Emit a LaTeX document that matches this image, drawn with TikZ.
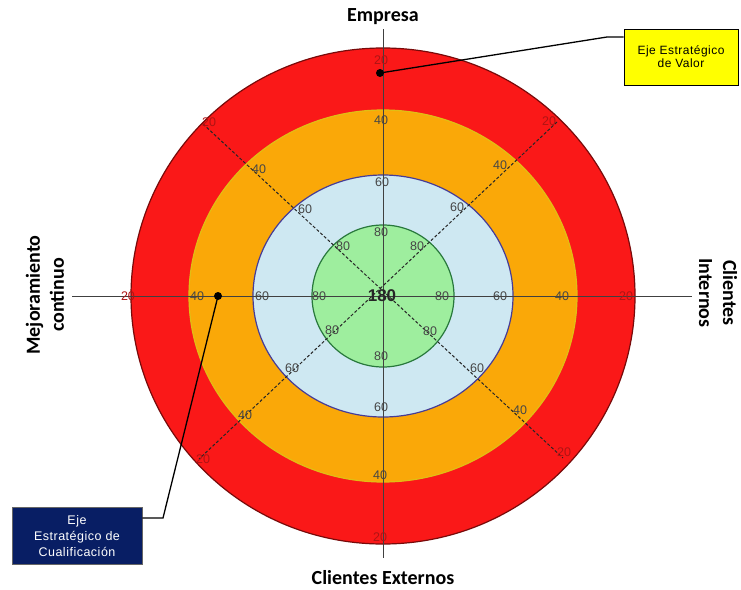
\documentclass[tikz,border=0pt]{standalone}
\usepackage{fontspec}
\setmainfont{Liberation Sans}
\newfontfamily\calib{Carlito}
\usetikzlibrary{shapes.geometric}
\definecolor{ringred}{RGB}{250,24,24}
\definecolor{ringredline}{RGB}{120,10,10}
\definecolor{ringorange}{RGB}{250,168,8}
\definecolor{ringorangeline}{RGB}{225,190,20}
\definecolor{ringblue}{RGB}{206,232,242}
\definecolor{ringblueline}{RGB}{70,60,150}
\definecolor{ringgreen}{RGB}{158,238,158}
\definecolor{ringgreenline}{RGB}{40,120,60}
\definecolor{numgray}{RGB}{70,70,70}
\definecolor{faintred}{RGB}{175,20,20}
\definecolor{boxyellow}{RGB}{255,255,0}
\definecolor{boxnavy}{RGB}{8,30,100}
\begin{document}
\begin{tikzpicture}[x=1pt,y=-1pt,
  axisline/.style={draw=black!75, line width=0.9pt},
  diagline/.style={draw=black!85, line width=1pt, dash pattern=on 3pt off 2pt},
  num/.style={font=\fontsize{12.5}{12.5}\selectfont, text=numgray, inner sep=0pt},
  faintnum/.style={font=\fontsize{12.5}{12.5}\selectfont, text=faintred, inner sep=0pt},
  axislabel/.style={font=\calib\bfseries\fontsize{20}{24}\selectfont, align=center, inner sep=0pt},
  dotmark/.style={circle, fill=black, minimum size=8pt, inner sep=0pt},
  callout/.style={draw=black, line width=1.3pt},
  yellowbox/.style={draw=black, line width=0.9pt, fill=boxyellow, minimum width=114pt, minimum height=56pt, align=center, font=\fontsize{12}{13}\selectfont\addfontfeature{LetterSpace=4}},
  navybox/.style={draw=black!60, line width=0.8pt, fill=boxnavy, text=white, minimum width=130pt, minimum height=57pt, align=center, font=\fontsize{12.5}{16}\selectfont\addfontfeature{LetterSpace=4}}
]
\useasboundingbox[fill=white] (0,0) rectangle (741,589);
\coordinate (c) at (383,296);

% rings
\filldraw[fill=ringred, draw=ringredline, line width=1.2pt] (c) ellipse [x radius=252pt, y radius=248pt];
\filldraw[fill=ringorange, draw=ringorangeline, line width=1.2pt] (c) ellipse [x radius=194pt, y radius=186pt];
\filldraw[fill=ringblue, draw=ringblueline, line width=1.2pt] (c) ellipse [x radius=130pt, y radius=121pt];
\filldraw[fill=ringgreen, draw=ringgreenline, line width=1.2pt] (c) circle [radius=71pt];

% axis labels
\node[axislabel] (emp) at (383,17) {Empresa};
\node[axislabel] (cext) at (383,578) {Clientes Externos};
\node[axislabel, rotate=90] (mej) at (45,295) {Mejoramiento\\continuo};
\node[axislabel, rotate=-90] (cint) at (718,293) {Clientes\\Internos};

% axes
\coordinate (atop) at (383,29);
\coordinate (abot) at (383,558);
\coordinate (aleft) at (72,296);
\coordinate (aright) at (692,296);
\draw[axisline] (atop) -- (abot);
\draw[axisline] (aleft) -- (aright);

% diagonals
\coordinate (dul) at (203,124);
\coordinate (dlr) at (563,458);
\coordinate (dur) at (557,122);
\coordinate (dll) at (199,459);
\draw[diagline] (dul) -- (dlr);
\draw[diagline] (dur) -- (dll);

% numbers vertical
\node[faintnum] (v20a) at (381,60) {20};
\node[num] (v40a) at (381,120) {40};
\node[num] (v60a) at (382,182) {60};
\node[num] (v80a) at (381,232) {80};
\node[num] (v80b) at (381,356) {80};
\node[num] (v60b) at (381,407) {60};
\node[num] (v40b) at (380,475) {40};
\node[faintnum] (v20b) at (380,537) {20};
% numbers horizontal
\node[faintnum] (h20a) at (128,296) {20};
\node[num] (h40a) at (197,296) {40};
\node[num] (h60a) at (262,296) {60};
\node[num] (h80a) at (319,296) {80};
\node[num] (h80b) at (442,296) {80};
\node[num] (h60b) at (500,296) {60};
\node[num] (h40b) at (562,296) {40};
\node[faintnum] (h20b) at (626,296) {20};
% diagonal numbers
\node[faintnum] (ul20) at (209,122) {20};
\node[num] (ul40) at (259,169) {40};
\node[num] (ul60) at (305,209) {60};
\node[num] (ul80) at (343,246) {80};
\node[faintnum] (ur20) at (549,121) {20};
\node[num] (ur40) at (500,165) {40};
\node[num] (ur60) at (457,207) {60};
\node[num] (ur80) at (417,246) {80};
\node[num] (ll80) at (332,330) {80};
\node[num] (ll60) at (292,368) {60};
\node[num] (ll40) at (245,415) {40};
\node[faintnum] (ll20) at (203,459) {20};
\node[num] (lr80) at (430,331) {80};
\node[num] (lr60) at (477,368) {60};
\node[num] (lr40) at (520,410) {40};
\node[faintnum] (lr20) at (564,452) {20};

% center
\node[font=\bfseries\fontsize{17}{17}\selectfont, text=black!85, inner sep=0pt] (ctr) at (382,296) {180};

% callouts
\node[dotmark] (d1) at (380,73) {};
\node[dotmark] (d2) at (218,296) {};
\node[yellowbox] (b1) at (681,57) {Eje Estratégico\\de Valor};
\node[navybox] (b2) at (77,536) {Eje\\Estratégico de\\Cualificación};
\coordinate (k1) at (607,37);
\coordinate (k2) at (163,518);
\draw[callout] (d1.center) -- (k1) -- (k1 -| b1.west);
\draw[callout] (d2.center) -- (k2) -- (k2 -| b2.east);
\end{tikzpicture}
\end{document}
